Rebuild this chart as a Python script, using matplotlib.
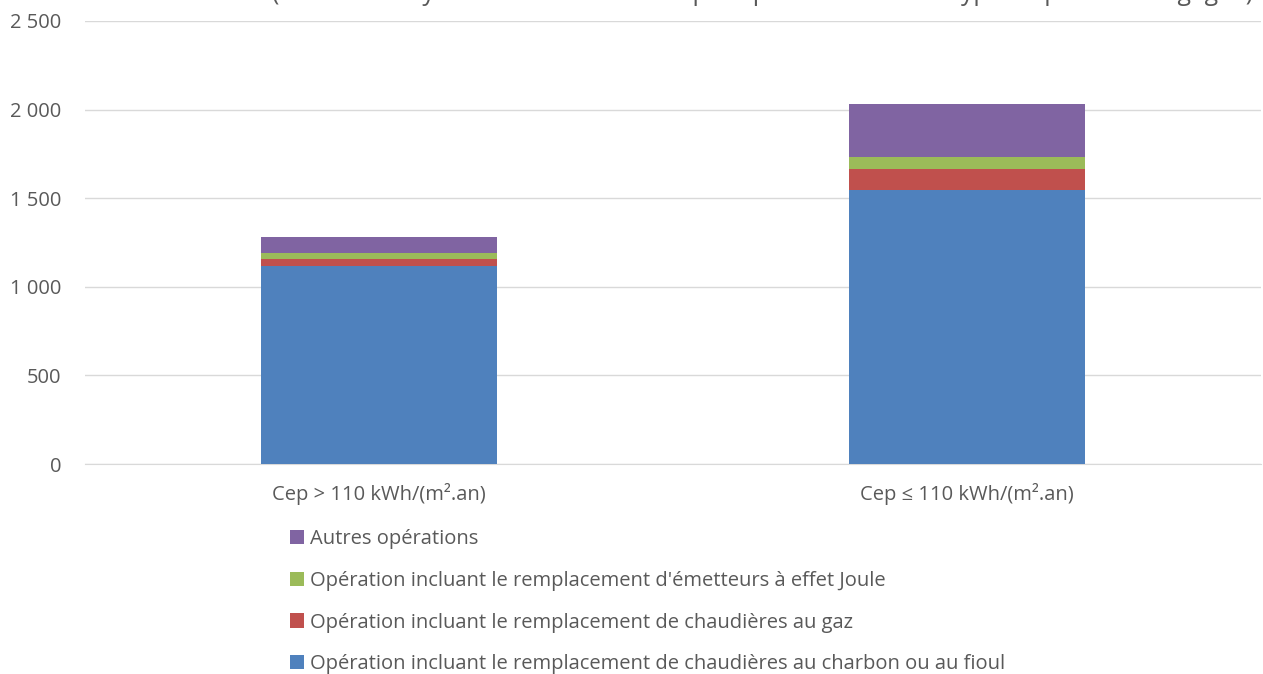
import matplotlib
matplotlib.use("Agg")
import matplotlib.pyplot as plt
import numpy as np
from matplotlib.ticker import FuncFormatter

plt.rcParams['font.family'] = ['Open Sans', 'DejaVu Sans']

categories = ["Cep > 110 kWh/(m².an)", "Cep ≤ 110 kWh/(m².an)"]
series_labels = [
    "Opération incluant le remplacement de chaudières au charbon ou au fioul",
    "Opération incluant le remplacement de chaudières au gaz",
    "Opération incluant le remplacement d'émetteurs à effet Joule",
    "Autres opérations",
]
charbon_fioul = [1120, 1548]
gaz = [35, 118]
joule = [35, 65]
autres = [90, 300]
colors = ["#4F81BD", "#C0504D", "#9BBB59", "#8064A2"]

text_color = "#595959"

fig = plt.figure(figsize=(12.63, 6.74), dpi=100)
ax = fig.add_axes([85 / 1263, 210 / 674, 1176 / 1263, 443 / 674])

x = np.arange(len(categories))
bottom = np.zeros(len(categories))
handles = []
for vals, lab, col in zip([charbon_fioul, gaz, joule, autres], series_labels, colors):
    b = ax.bar(x, vals, width=0.4, bottom=bottom, color=col, label=lab, zorder=3)
    handles.append(b)
    bottom += np.array(vals)

ax.set_xlim(-0.5, 1.5)
ax.set_ylim(0, 2500)
ax.set_yticks(np.arange(0, 2501, 500))
ax.yaxis.set_major_formatter(FuncFormatter(lambda v, p: f"{int(v):,}".replace(",", " ")))
ax.set_xticks(x)
ax.set_xticklabels(categories)
ax.tick_params(axis='both', length=0, labelsize=14.5, colors=text_color)
ax.tick_params(axis='y', pad=17)
ax.tick_params(axis='x', pad=14)
ax.grid(axis='y', color="#D9D9D9", linewidth=1, zorder=0)
for s in ["top", "right", "left"]:
    ax.spines[s].set_visible(False)
ax.spines["bottom"].set_color("#D9D9D9")

# title, mostly cut off at the top edge of the picture (as in the source)
fig.text(0.604, 1.0, "(Montant moyen des aides en euros par opération selon le type d'opération engagée)",
         ha='center', va='baseline', fontsize=17.8, color=text_color)

fig.legend(handles[::-1], series_labels[::-1], loc='upper left',
           bbox_to_anchor=(282 / 1263, 1 - 521 / 674), frameon=False,
           fontsize=14.5, labelcolor=text_color, handlelength=0.7, handleheight=0.7,
           handletextpad=0.3, labelspacing=1.08, borderaxespad=0)

fig.savefig("out.png", dpi=100)
